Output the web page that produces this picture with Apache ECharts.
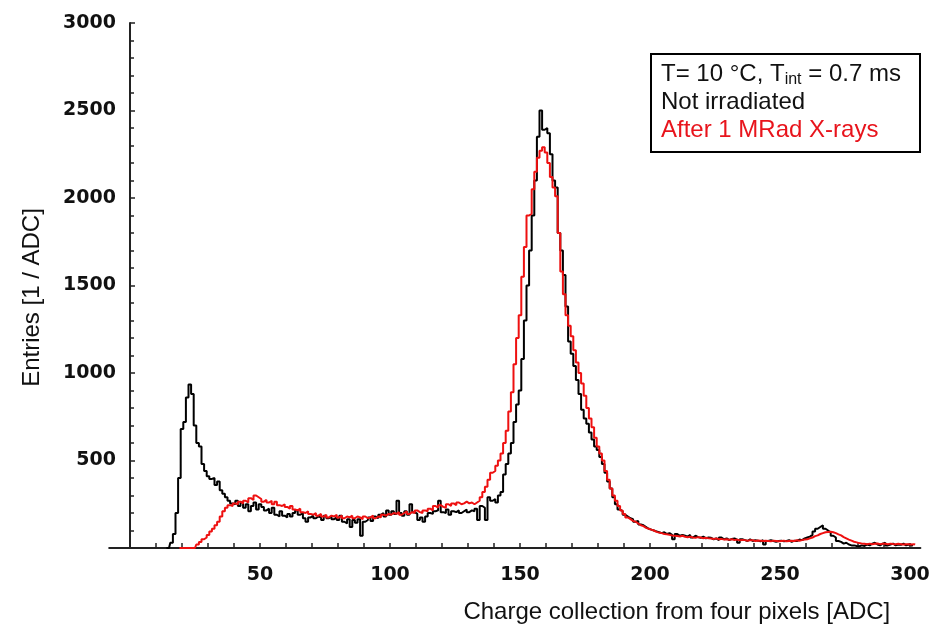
<!DOCTYPE html>
<html>
<head>
<meta charset="utf-8">
<script src="https://cdn.jsdelivr.net/npm/echarts@6/dist/echarts.min.js"></script>
<style>
  html, body { margin: 0; padding: 0; background: #fff; }
  #chart { width: 945px; height: 630px; }
</style>
</head>
<body>
<div id="chart"></div>
<script>
// Charge spectra (entries per ADC bin, 1 ADC wide bins)
const blackFirstBin = 14;
const blackCounts = [
  0, 0, 30, 80, 200, 400, 680, 720, 860, 935,            // 14-23
  880, 700, 600, 580, 480, 440, 410, 395, 400, 360,      // 24-33
  380, 330, 310, 290, 270, 255, 250, 270, 240, 260,      // 34-43
  230, 250, 210, 240, 260, 220, 250, 235, 215, 225,      // 44-53
  200, 230, 190, 180, 210, 185, 175, 195, 180, 200,      // 54-63
  215, 190, 200, 170, 150, 175, 185, 170, 180, 175,      // 64-73
  160, 185, 170, 180, 165, 175, 160, 185, 150, 140,      // 74-83
  165, 120, 160, 145, 165, 70, 150, 160, 175, 155,       // 84-93
  180, 170, 190, 200, 180, 215, 190, 210, 195, 270,      // 94-103
  200, 185, 210, 190, 250, 205, 195, 160, 175, 150,      // 104-113
  180, 200, 195, 210, 215, 270, 205, 200, 220, 190,      // 114-123
  210, 205, 215, 200, 210, 220, 205, 215, 210, 225,      // 124-133
  160, 240, 230, 160, 290, 270, 280, 260, 300, 320,      // 134-143
  420, 480, 540, 600, 720, 820, 900, 1080, 1300, 1500,   // 144-153
  1700, 1900, 2100, 2350, 2500, 2390, 2400, 2370, 2250, 2100, // 154-163
  2060, 1800, 1700, 1560, 1380, 1180, 1110, 1040, 960, 880,   // 164-173
  790, 740, 710, 660, 620, 580, 560, 520, 480, 430,      // 174-183
  380, 340, 290, 250, 220, 210, 190, 180, 170, 165,      // 184-193
  150, 155, 135, 130, 120, 110, 105, 100, 95, 90,        // 194-203
  85, 90, 80, 85, 75, 50, 80, 70, 75, 70,                // 204-213
  65, 75, 60, 70, 62, 58, 65, 55, 60, 58,                // 214-223
  50, 55, 45, 60, 50, 55, 45, 52, 55, 48,                // 224-233
  30, 50, 45, 40, 50, 40, 45, 42, 38, 45,                // 234-243
  20, 40, 45, 40, 35, 40, 42, 38, 40, 45,                // 244-253
  35, 42, 40, 48, 45, 55, 60, 65, 75, 95,                // 254-263
  110, 120, 130, 110, 100, 90, 70, 60, 40, 35,           // 264-273
  25, 30, 20, 15, 15, 12, 10, 15, 12, 20,                // 274-283
  15, 25, 30, 20, 15, 25, 30, 15, 20, 25,                // 284-293
  15, 20, 18, 25, 15, 20, 18, 10                         // 294-301
];

const redFirstBin = 19;
const redCounts = [
  0, 0, 0, 0, 0, 0, 0, 20, 35, 50,                       // 19-28
  60, 75, 95, 110, 130, 150, 180, 210, 230, 245,         // 29-38
  240, 255, 250, 265, 255, 270, 260, 285, 275, 300,      // 39-48
  290, 280, 265, 275, 260, 270, 250, 265, 245, 240,      // 49-58
  250, 235, 225, 240, 220, 215, 225, 205, 200, 210,      // 59-68
  195, 190, 200, 185, 195, 180, 190, 175, 185, 180,      // 69-78
  190, 175, 185, 170, 180, 175, 185, 170, 180, 175,      // 79-88
  165, 180, 170, 175, 185, 170, 180, 175, 190, 185,      // 89-98
  195, 190, 200, 195, 205, 190, 200, 210, 195, 205,      // 99-108
  200, 215, 205, 200, 215, 210, 225, 215, 240, 230,      // 109-118
  245, 235, 230, 250, 240, 255, 245, 260, 250, 255,      // 119-128
  265, 255, 260, 250, 260, 270, 290, 320, 350, 390,      // 129-138
  430, 440, 470, 500, 540, 600, 670, 780, 890, 1050,     // 139-148
  1200, 1330, 1550, 1720, 1900, 1910, 2050, 2150, 2230, 2270, // 149-158
  2290, 2260, 2200, 2120, 2060, 2010, 1800, 1580, 1450, 1330, // 159-168
  1270, 1210, 1130, 1060, 1000, 940, 870, 800, 740, 690, // 169-178
  630, 580, 540, 500, 440, 390, 340, 300, 270, 240,      // 179-188
  215, 195, 175, 165, 155, 150, 140, 130, 125, 115,      // 189-198
  110, 105, 100, 92, 88, 85, 80, 78, 75, 72,             // 199-208
  70, 68, 66, 70, 64, 62, 65, 60, 58, 62,                // 209-218
  60, 56, 58, 55, 54, 52, 55, 50, 52, 48,                // 219-228
  50, 47, 50, 45, 48, 44, 46, 45, 42, 44,                // 229-238
  45, 40, 43, 42, 40, 42, 40, 38, 42, 40,                // 239-248
  38, 40, 42, 38, 40, 42, 40, 44, 42, 45,                // 249-258
  48, 50, 55, 60, 68, 72, 80, 85, 90, 92,                // 259-268
  93, 90, 85, 78, 72, 62, 55, 48, 42, 36,                // 269-278
  32, 28, 25, 24, 22, 25, 22, 24, 26, 22,                // 279-288
  25, 24, 22, 25, 23, 22, 24, 22, 20, 22,                // 289-298
  21, 20, 22, 20                                         // 299-302
];

const xTickValues = [10, 20, 30, 40, 50, 60, 70, 80, 90, 100, 110, 120, 130, 140, 150,
  160, 170, 180, 190, 200, 210, 220, 230, 240, 250, 260, 270, 280, 290, 300];
const xLabelValues = [50, 100, 150, 200, 250, 300];
const yLabelValues = [500, 1000, 1500, 2000, 2500, 3000];

const xMin = -8, xMax = 304;
const gridRect = { left: 109.2, top: 23, width: 811.2, height: 525 };
// the x axis line reaches a little left of zero; the y axis sits at x = 0
const yAxisShift = -(0 - xMin) * gridRect.width / (xMax - xMin);

const toPairs = (first, counts) => counts.map((c, i) => [first + i, c]);
const plainNumber = v => String(v);

const tickFont = { fontFamily: 'DejaVu Sans', fontWeight: 'bold', fontSize: 19, color: '#111' };
const titleFont = { fontFamily: 'Liberation Sans', fontSize: 24, color: '#111' };
const axisColor = '#222';

const chart = echarts.init(document.getElementById('chart'), null, { renderer: 'canvas' });

chart.setOption({
  backgroundColor: '#ffffff',
  animation: false,
  grid: Object.assign({ containLabel: false, outerBoundsMode: 'none' }, gridRect),
  xAxis: {
    type: 'value',
    min: xMin,
    max: xMax,
    name: 'Charge collection from four pixels [ADC]',
    nameLocation: 'middle',
    nameGap: 52,
    nameMoveOverlap: false,
    nameTextStyle: Object.assign({ padding: [0, 0, 0, 324] }, titleFont),
    axisLine: { onZero: false, lineStyle: { color: axisColor, width: 2 } },
    axisTick: { show: true, inside: true, length: 5, customValues: xTickValues, lineStyle: { color: axisColor, width: 1.5 } },
    axisLabel: Object.assign({ margin: 18, customValues: xLabelValues, formatter: plainNumber }, tickFont),
    splitLine: { show: false }
  },
  yAxis: {
    type: 'value',
    min: 0,
    max: 3000,
    interval: 500,
    offset: yAxisShift,
    name: 'Entries [1 / ADC]',
    nameLocation: 'middle',
    nameRotate: 90,
    nameGap: 86,
    nameMoveOverlap: false,
    nameTextStyle: Object.assign({ padding: [0, 24, 0, 0] }, titleFont),
    axisLine: { onZero: false, lineStyle: { color: axisColor, width: 2 } },
    axisTick: { show: true, inside: true, length: 5, lineStyle: { color: axisColor, width: 1.5 } },
    minorTick: { show: true, splitNumber: 5, length: 4, lineStyle: { color: axisColor, width: 1.5 } },
    axisLabel: Object.assign({ margin: 14, customValues: yLabelValues, formatter: plainNumber }, tickFont),
    splitLine: { show: false }
  },
  series: [
    {
      name: 'Not irradiated',
      type: 'line',
      step: 'middle',
      symbol: 'none',
      data: toPairs(blackFirstBin, blackCounts),
      lineStyle: { color: '#000000', width: 2 },
      z: 3
    },
    {
      name: 'After 1 MRad X-rays',
      type: 'line',
      step: 'middle',
      symbol: 'none',
      data: toPairs(redFirstBin, redCounts),
      lineStyle: { color: '#ee1010', width: 2 },
      z: 4
    }
  ],
  graphic: [
    {
      type: 'group',
      left: 650,
      top: 53,
      children: [
        { type: 'rect', shape: { x: 0, y: 0, width: 269, height: 98 },
          style: { fill: '#fff', stroke: '#000', lineWidth: 2 } },
        { type: 'text', x: 10, y: 6,
          style: {
            text: '{m|T= 10 °C, T}{s|int}{m| = 0.7 ms}\n{m|Not irradiated}\n{r|After 1 MRad X-rays}',
            rich: {
              m: { fontFamily: 'Liberation Sans', fontSize: 24, fill: '#111', lineHeight: 28 },
              s: { fontFamily: 'Liberation Sans', fontSize: 16, fill: '#111', lineHeight: 28, padding: [11, 0, 0, 0] },
              r: { fontFamily: 'Liberation Sans', fontSize: 24, fill: '#e8141c', lineHeight: 28 }
            }
          }
        }
      ]
    }
  ]
});
</script>
</body>
</html>
